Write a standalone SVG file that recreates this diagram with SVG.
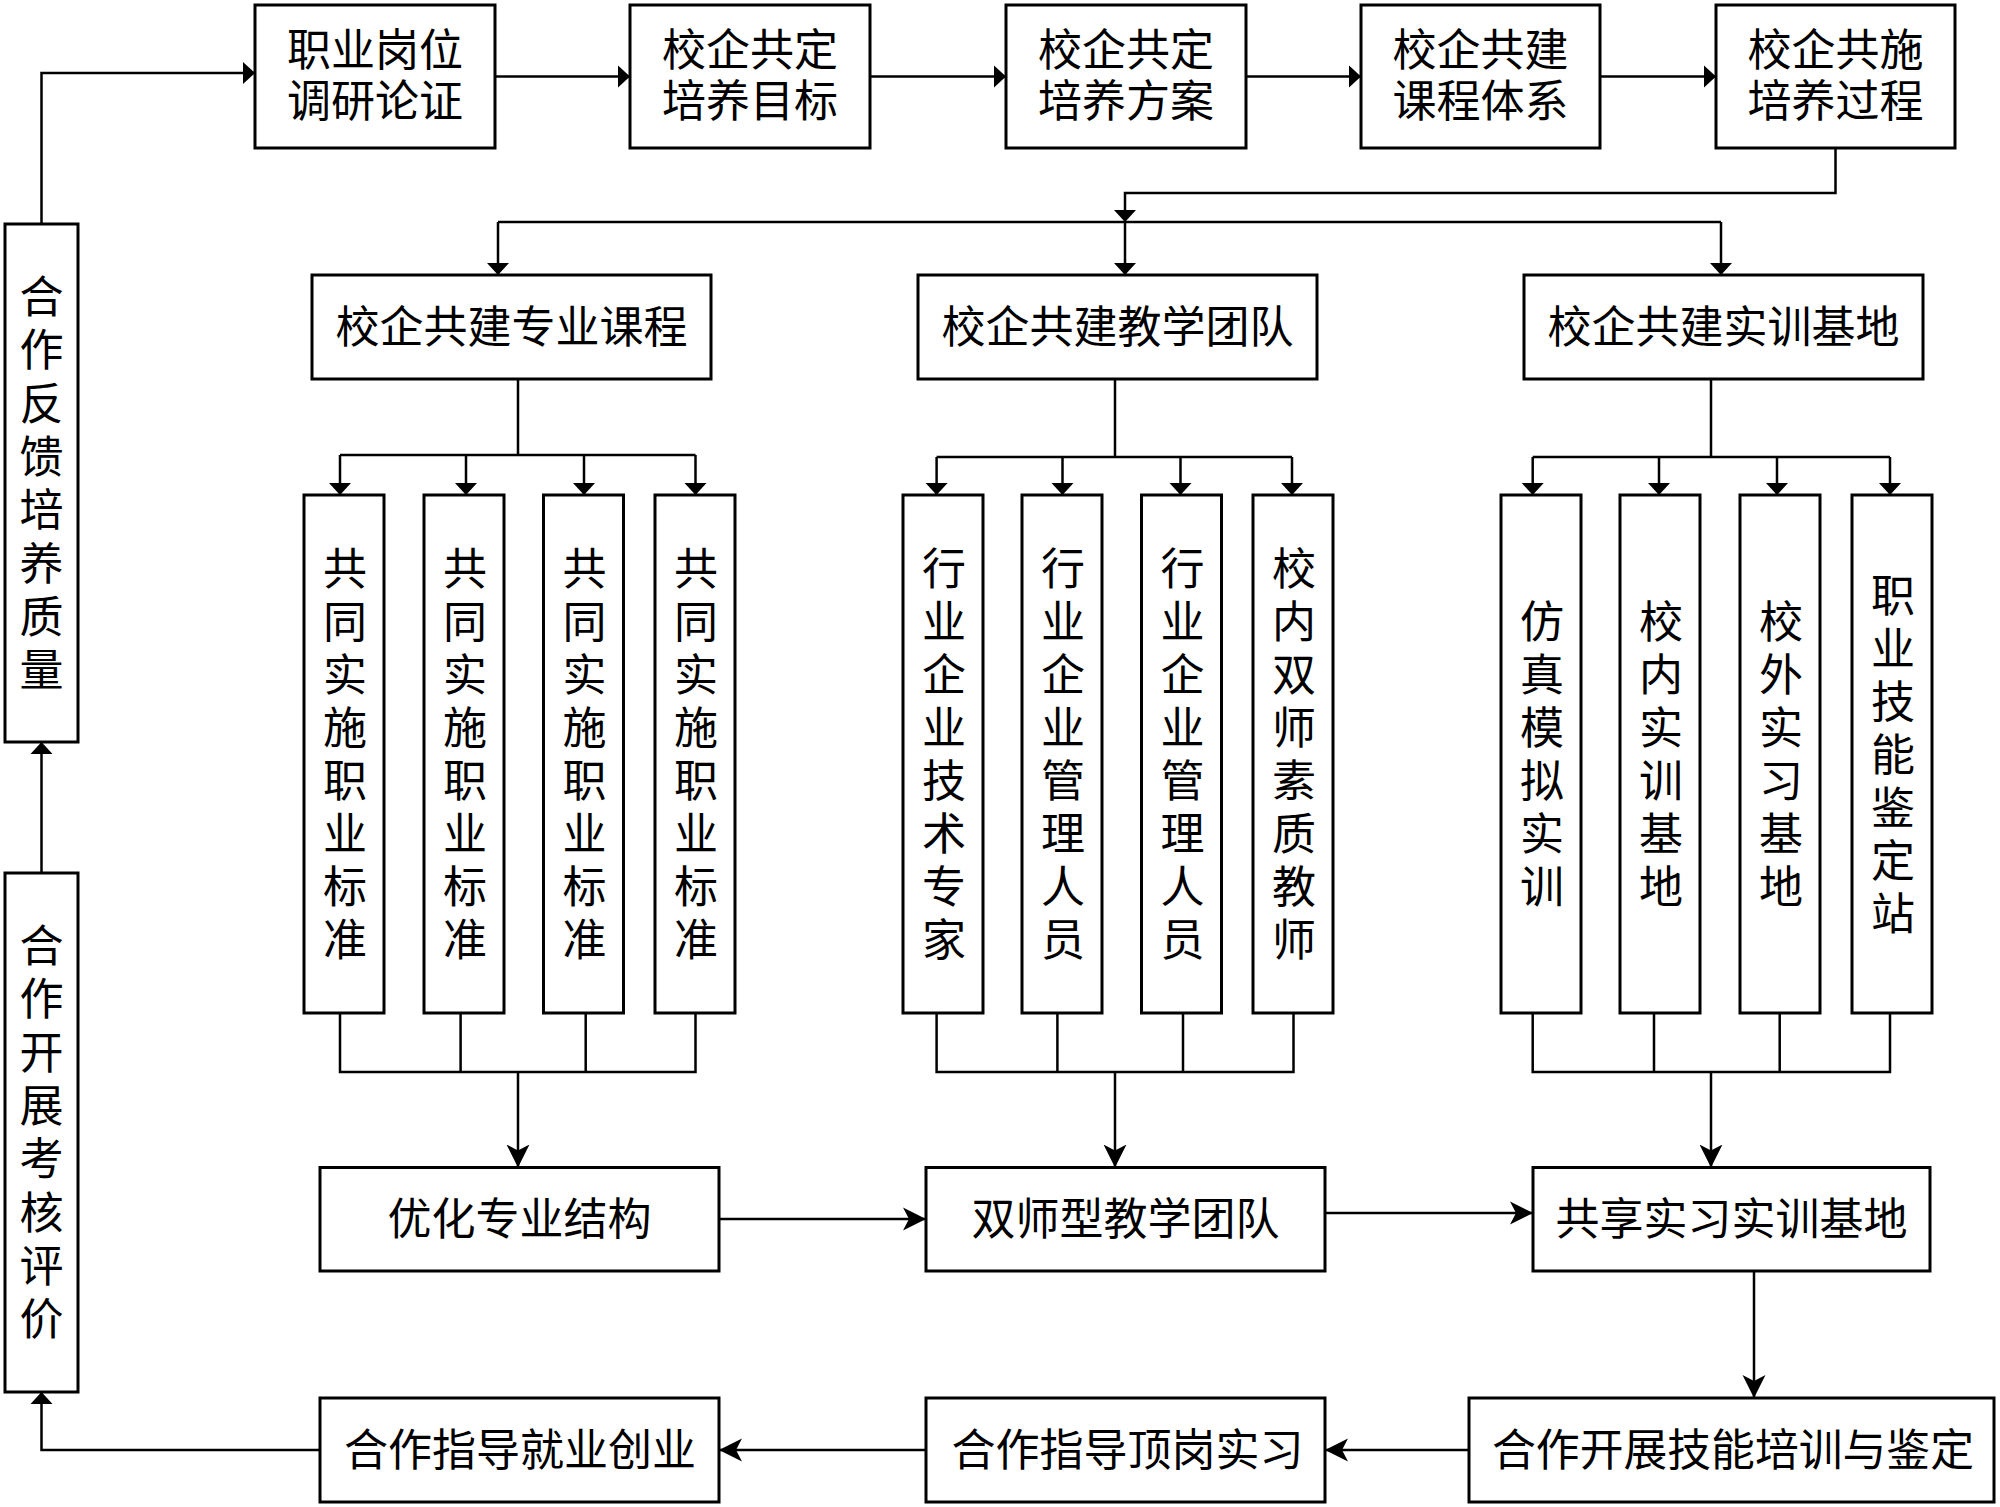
<svg xmlns="http://www.w3.org/2000/svg" width="2000" height="1507" viewBox="0 0 2000 1507">
<style>
.box{fill:#fff;stroke:#000;stroke-width:3}
.t{font-family:"Liberation Sans","Noto Sans CJK SC",sans-serif;font-size:44px;fill:#000;text-anchor:middle}
.v{font-family:"Noto Sans CJK SC","Noto Sans",sans-serif;font-size:44px;fill:#000;text-anchor:middle;writing-mode:vertical-rl;letter-spacing:9px}
.vl{letter-spacing:9.3px}
.c{fill:none;stroke:#000;stroke-width:2.5}
.ca{fill:none;stroke:#000;stroke-width:2.5;marker-end:url(#s)}
.cb{fill:none;stroke:#000;stroke-width:2.5;marker-end:url(#b)}
</style>
<defs>
<marker id="s" markerUnits="userSpaceOnUse" viewBox="0 -12 13 24" markerWidth="13" markerHeight="24" refX="12" refY="0" orient="auto"><path d="M0,-11 L12,0 L0,11 Z" fill="#000"/></marker>
<marker id="b" markerUnits="userSpaceOnUse" viewBox="0 -12 24 24" markerWidth="24" markerHeight="24" refX="23" refY="0" orient="auto"><path d="M0,-11.5 L23,0 L0,11.5 L6,0 Z" fill="#000"/></marker>
</defs>
<rect width="2000" height="1507" fill="#fff"/>
<g id="connectors">
<path class="ca" d="M495,76.5 H630"/>
<path class="ca" d="M870,76.5 H1006"/>
<path class="ca" d="M1246,76.5 H1361"/>
<path class="ca" d="M1600,76.5 H1716"/>
<path class="ca" d="M1835.5,148 V193 H1125 V222"/>
<path class="c" d="M498,222 H1721"/>
<path class="ca" d="M498,222 V275"/>
<path class="ca" d="M1125,222 V275"/>
<path class="ca" d="M1721,222 V275"/>
<path class="c" d="M518,379 V455 M340,455 H695.5"/>
<path class="ca" d="M340,455 V495"/>
<path class="ca" d="M466,455 V495"/>
<path class="ca" d="M584,455 V495"/>
<path class="ca" d="M695.5,455 V495"/>
<path class="c" d="M1115,379 V457 M936.6,457 H1292"/>
<path class="ca" d="M936.6,457 V495"/>
<path class="ca" d="M1062.5,457 V495"/>
<path class="ca" d="M1180.5,457 V495"/>
<path class="ca" d="M1292,457 V495"/>
<path class="c" d="M1711,379 V457 M1532.7,457 H1890"/>
<path class="ca" d="M1532.7,457 V495"/>
<path class="ca" d="M1659,457 V495"/>
<path class="ca" d="M1777,457 V495"/>
<path class="ca" d="M1890,457 V495"/>
<path class="c" d="M340,1013 V1072 H695.5 V1013 M460.6,1013 V1072 M585.7,1013 V1072"/>
<path class="cb" d="M518,1072 V1167.5"/>
<path class="c" d="M936.6,1013 V1072 H1293.5 V1013 M1057.4,1013 V1072 M1183,1013 V1072"/>
<path class="cb" d="M1115,1072 V1167.5"/>
<path class="c" d="M1532.7,1013 V1072 H1890 V1013 M1654,1013 V1072 M1779.7,1013 V1072"/>
<path class="cb" d="M1711,1072 V1167.5"/>
<path class="cb" d="M719,1219 H926"/>
<path class="cb" d="M1325,1213 H1533"/>
<path class="cb" d="M1754,1271 V1398"/>
<path class="cb" d="M1469,1450 H1325"/>
<path class="cb" d="M926,1450 H719"/>
<path class="ca" d="M320,1450 H41.5 V1392"/>
<path class="ca" d="M41.5,873 V742"/>
<path class="ca" d="M41.5,224 V73 H255"/>
</g>
<g id="n1"><rect class="box" x="255" y="5" width="240" height="143"/><text class="t" x="375" y="66">职业岗位</text><text class="t" x="375" y="117">调研论证</text></g>
<g id="n2"><rect class="box" x="630" y="5" width="240" height="143"/><text class="t" x="750" y="66">校企共定</text><text class="t" x="750" y="117">培养目标</text></g>
<g id="n3"><rect class="box" x="1006" y="5" width="240" height="143"/><text class="t" x="1126" y="66">校企共定</text><text class="t" x="1126" y="117">培养方案</text></g>
<g id="n4"><rect class="box" x="1361" y="5" width="239" height="143"/><text class="t" x="1480.5" y="66">校企共建</text><text class="t" x="1480.5" y="117">课程体系</text></g>
<g id="n5"><rect class="box" x="1716" y="5" width="239" height="143"/><text class="t" x="1835.5" y="66">校企共施</text><text class="t" x="1835.5" y="117">培养过程</text></g>
<g id="n6"><rect class="box" x="312" y="275" width="399" height="104"/><text class="t" x="511.5" y="343">校企共建专业课程</text></g>
<g id="n7"><rect class="box" x="918" y="275" width="399" height="104"/><text class="t" x="1117.5" y="343">校企共建教学团队</text></g>
<g id="n8"><rect class="box" x="1524" y="275" width="399" height="104"/><text class="t" x="1723.5" y="343">校企共建实训基地</text></g>
<g id="n9"><rect class="box" x="304" y="495" width="80" height="518"/><text class="v" x="345" y="758.5">共同实施职业标准</text></g>
<g id="n10"><rect class="box" x="424" y="495" width="80" height="518"/><text class="v" x="465" y="758.5">共同实施职业标准</text></g>
<g id="n11"><rect class="box" x="543.5" y="495" width="80" height="518"/><text class="v" x="584.5" y="758.5">共同实施职业标准</text></g>
<g id="n12"><rect class="box" x="655" y="495" width="80" height="518"/><text class="v" x="696" y="758.5">共同实施职业标准</text></g>
<g id="n13"><rect class="box" x="903" y="495" width="80" height="518"/><text class="v" x="944" y="758.5">行业企业技术专家</text></g>
<g id="n14"><rect class="box" x="1022" y="495" width="80" height="518"/><text class="v" x="1063" y="758.5">行业企业管理人员</text></g>
<g id="n15"><rect class="box" x="1141.5" y="495" width="80" height="518"/><text class="v" x="1182.5" y="758.5">行业企业管理人员</text></g>
<g id="n16"><rect class="box" x="1253" y="495" width="80" height="518"/><text class="v" x="1294" y="758.5">校内双师素质教师</text></g>
<g id="n17"><rect class="box" x="1501" y="495" width="80" height="518"/><text class="v" x="1542" y="758.5">仿真模拟实训</text></g>
<g id="n18"><rect class="box" x="1620" y="495" width="80" height="518"/><text class="v" x="1661" y="758.5">校内实训基地</text></g>
<g id="n19"><rect class="box" x="1740" y="495" width="80" height="518"/><text class="v" x="1781" y="758.5">校外实习基地</text></g>
<g id="n20"><rect class="box" x="1852" y="495" width="80" height="518"/><text class="v" x="1893" y="758.5">职业技能鉴定站</text></g>
<g id="n21"><rect class="box" x="320" y="1167.5" width="399" height="103.5"/><text class="t" x="519.5" y="1235">优化专业结构</text></g>
<g id="n22"><rect class="box" x="926" y="1167.5" width="399" height="103.5"/><text class="t" x="1125.5" y="1235">双师型教学团队</text></g>
<g id="n23"><rect class="box" x="1533" y="1167.5" width="397" height="103.5"/><text class="t" x="1731.5" y="1235">共享实习实训基地</text></g>
<g id="n24"><rect class="box" x="1469" y="1398" width="525" height="104"/><text class="t" x="1733" y="1466" textLength="482" lengthAdjust="spacingAndGlyphs">合作开展技能培训与鉴定</text></g>
<g id="n25"><rect class="box" x="926" y="1398" width="399" height="104"/><text class="t" x="1127.5" y="1466">合作指导顶岗实习</text></g>
<g id="n26"><rect class="box" x="320" y="1398" width="399" height="104"/><text class="t" x="520" y="1466">合作指导就业创业</text></g>
<g id="n27"><rect class="box" x="5" y="224" width="73" height="518"/><text class="v vl" x="41.5" y="487.5">合作反馈培养质量</text></g>
<g id="n28"><rect class="box" x="5" y="873" width="73" height="519"/><text class="v vl" x="41.5" y="1136.5">合作开展考核评价</text></g>
</svg>
